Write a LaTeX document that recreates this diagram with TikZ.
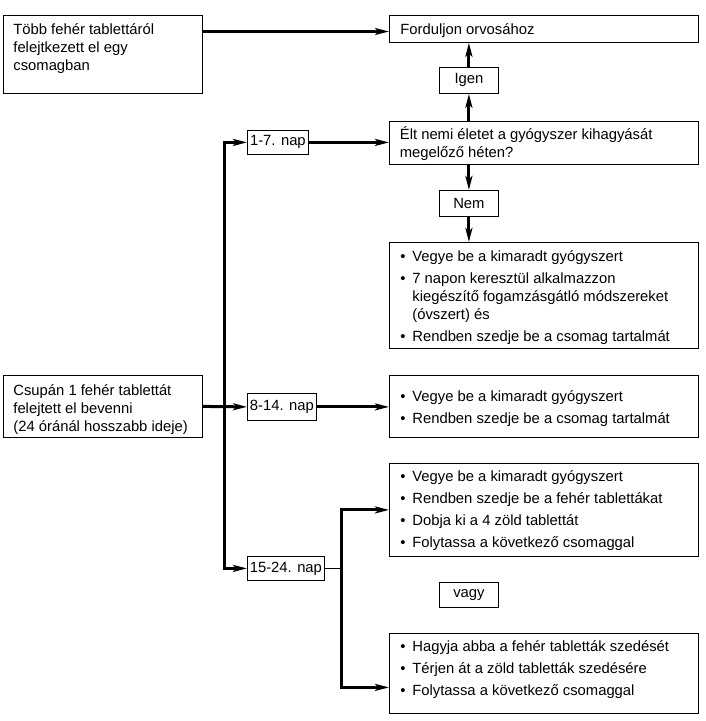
\documentclass[tikz,border=0pt]{standalone}
\usepackage{fontspec}
\setmainfont{Liberation Sans}
\usetikzlibrary{arrows.meta}
% plain text box: width, height, first baseline, left pad, text
\newcommand\bxt[5]{\parbox[c][#2][t]{#1}{\raggedright\leftskip=#4\parskip=4pt\noindent\rule{0pt}{#3}#5}}
% bullet box
\newcommand\bxl[5]{\parbox[c][#2][t]{#1}{\raggedright\leftskip=#4\parskip=4pt\def\firstlead{#3}#5}}
\newcommand\itm{\par\noindent\hangindent=12pt\hangafter=1\makebox[12pt][l]{\textbullet}}
\newcommand\nl{\unskip\nobreak\hfil\break}
\begin{document}
\begin{tikzpicture}[x=1pt,y=-1pt,
  font=\fontsize{14.8}{18}\selectfont,
  box/.style={draw, line width=0.8pt, inner sep=0pt, anchor=north west},
  lab/.style={draw, line width=0.8pt, inner sep=0pt, anchor=north west, align=center},
  conn/.style={line width=3pt, -{Stealth[length=14pt,width=7pt,inset=3.5pt]}},
  thinline/.style={line width=0.8pt}]
\useasboundingbox (0,0) rectangle (705,721);
\fill[white] (0,0) rectangle (705,721);

% boxes
\node[box] (A) at (3,15) {\bxt{199pt}{78pt}{19pt}{10pt}{Több fehér tablettáról\\felejtkezett el egy\\csomagban}};
\node[box] (F) at (389,15) {\bxt{309pt}{27pt}{19pt}{11pt}{Forduljon orvosához}};
\node[lab, minimum width=59pt, minimum height=26pt] (I) at (439,67) {Igen};
\node[box] (E) at (389,121) {\bxt{309pt}{43pt}{18.5pt}{10.5pt}{Élt nemi életet a gyógyszer kihagyását\\megelőző héten?}};
\node[lab, minimum width=59pt, minimum height=26pt] (N) at (439,190) {Nem};
\node[box] (B1) at (389,242) {\bxl{309pt}{106pt}{18.7pt}{11pt}{%
  \itm\rule{0pt}{\firstlead}Vegye be a kimaradt gyógyszert
  \itm 7 napon keresztül alkalmazzon\nl kiegészítő fogamzásgátló módszereket\nl (óvszert) és
  \itm Rendben szedje be a csomag tartalmát}};
\node[box] (C) at (3,375) {\bxt{199pt}{62pt}{20pt}{10pt}{Csupán 1 fehér tablettát\\felejtett el bevenni\\(24 óránál hosszabb ideje)}};
\node[box] (B2) at (389,375) {\bxl{309pt}{62pt}{26pt}{11pt}{%
  \itm\rule{0pt}{\firstlead}Vegye be a kimaradt gyógyszert
  \itm Rendben szedje be a csomag tartalmát}};
\node[box] (B3) at (389,463) {\bxl{309pt}{93pt}{18.4pt}{11pt}{%
  \itm\rule{0pt}{\firstlead}Vegye be a kimaradt gyógyszert
  \itm Rendben szedje be a fehér tablettákat
  \itm Dobja ki a 4 zöld tablettát
  \itm Folytassa a következő csomaggal}};
\node[lab, minimum width=59pt, minimum height=25pt] (V) at (439,582) {vagy};
\node[box] (B4) at (389,633) {\bxl{309pt}{80pt}{18.4pt}{11pt}{%
  \itm\rule{0pt}{\firstlead}Hagyja abba a fehér tabletták szedését
  \itm Térjen át a zöld tabletták szedésére
  \itm Folytassa a következő csomaggal}};

% day labels
\node[lab, minimum width=61pt, minimum height=24pt] (d1) at (247,130) {1-7. nap};
\node[lab, minimum width=69pt, minimum height=27pt] (d2) at (247,393) {8-14. nap};
\node[lab, minimum width=77pt, minimum height=24pt] (d3) at (247,556) {15-24. nap};

% helper coordinates
\coordinate (T) at (224,0);
\coordinate (Bx) at (341,0);
\coordinate (b4in) at ([yshift=-14pt]B4.west);

% connectors
\draw[conn] ([yshift=-16.5pt]A.north east) -- ([yshift=-16.5pt]F.north west);
\draw[conn] (I.north) -- (I.north |- F.south);
\draw[conn] (I.south |- E.north) -- (I.south);
\draw[conn] (N.north |- E.south) -- (N.north);
\draw[conn] (N.south) -- (N.south |- B1.north);
\draw[conn] (d1.east) -- (E.west |- d1.east);
\draw[conn] (T |- d3.west) -- (T |- d1.west) -- (d1.west);
\draw[conn] (T |- d1.west) -- (T |- d3.west) -- (d3.west);
\draw[conn] (C.east) -- (d2.west);
\draw[conn] (d2.east) -- (B2.west |- d2.east);
\draw[thinline] (d3.east) -- (Bx |- d3.east);
\draw[conn] (Bx |- b4in) -- (Bx |- B3.west) -- (B3.west);
\draw[conn] (Bx |- B3.west) -- (Bx |- b4in) -- (b4in);
\end{tikzpicture}
\end{document}
